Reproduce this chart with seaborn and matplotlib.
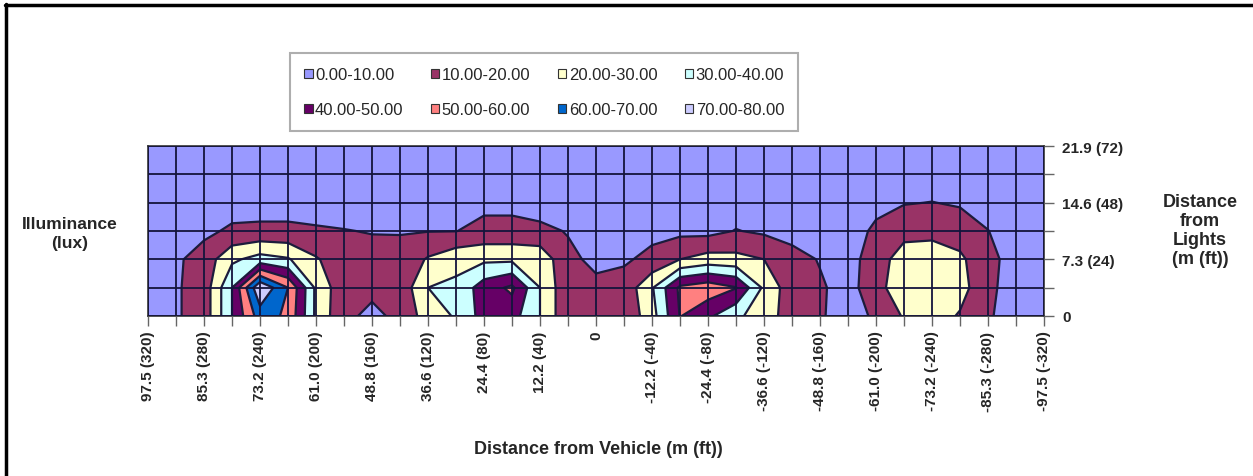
import numpy as np
import matplotlib
matplotlib.use("Agg")
import matplotlib.pyplot as plt
import seaborn as sns
from matplotlib.patches import Patch
from matplotlib.lines import Line2D

sns.set_theme(style="white")
plt.rcParams['font.family'] = ['Liberation Sans', 'DejaVu Sans']
plt.rcParams['font.weight'] = 'bold'

# distance from vehicle (ft), left to right as plotted
distance_ft = [320, 300, 280, 260, 240, 220, 200, 180, 160, 140, 120, 100, 80, 60, 40, 20, 0,
               -20, -40, -60, -80, -100, -120, -140, -160, -180, -200, -220, -240, -260, -280, -300, -320]
# distance from lights (ft)
height_ft = [0, 12, 24, 36, 48, 60, 72]

x_tick_labels = ["97.5 (320)", "85.3 (280)", "73.2 (240)", "61.0 (200)", "48.8 (160)", "36.6 (120)",
                 "24.4 (80)", "12.2 (40)", "0", "-12.2 (-40)", "-24.4 (-80)", "-36.6 (-120)",
                 "-48.8 (-160)", "-61.0 (-200)", "-73.2 (-240)", "-85.3 (-280)", "-97.5 (-320)"]
y_tick_labels = ["0", "7.3 (24)", "14.6 (48)", "21.9 (72)"]

# illuminance (lux), one list per distance from lights
lux_0ft = [5, 9, 14, 40, 65, 58, 28, 12, 8, 12, 25, 31, 44, 44, 30, 12, 12, 12, 26, 50.5, 42, 32, 25, 15, 11, 6, 11.5, 21, 25, 19, 11, 6, 4]
lux_12ft = [5, 9, 14, 40, 79, 60, 28, 13, 12, 13, 30, 32, 45, 52, 30, 12, 12, 13, 29, 52, 56, 50.5, 28, 14, 11, 7, 15, 29, 29, 24, 12, 6, 4]
lux_24ft = [5, 8.5, 14, 28, 34, 31, 21, 14, 13, 13, 21, 27, 28, 28, 27, 12, 8, 9, 12, 20, 24, 23, 20, 13, 9.5, 7, 14, 26, 26, 22, 12.5, 6.5, 4]
lux_36ft = [4, 6, 8, 11.5, 12, 12, 11, 10.3, 9.6, 9.5, 9.7, 9.8, 13, 13, 12, 9.5, 6, 7, 8, 7.5, 7, 10.4, 8.5, 7, 6, 5, 12, 16, 17, 15, 10.2, 5, 3]
lux_48ft = [3, 4, 5, 6, 6, 6, 6, 6, 5, 5, 5, 5, 7.5, 7.5, 6, 5, 4, 4, 5, 5, 5, 5, 5, 4, 4, 4, 7, 9.5, 10.2, 9, 6, 4, 3]
lux_60ft = [2, 3, 3, 3, 3, 3, 3, 3, 3, 3, 3, 3, 4, 4, 3, 3, 3, 3, 3, 3, 3, 3, 3, 3, 3, 3, 4, 5, 5, 5, 4, 3, 2]
lux_72ft = [2, 2, 2, 2, 2, 2, 2, 2, 2, 2, 2, 2, 2, 2, 2, 2, 2, 2, 2, 2, 2, 2, 2, 2, 2, 2, 2, 3, 3, 3, 2, 2, 2]

band_labels = ["0.00-10.00", "10.00-20.00", "20.00-30.00", "30.00-40.00",
               "40.00-50.00", "50.00-60.00", "60.00-70.00", "70.00-80.00"]
band_levels = [0, 10, 20, 30, 40, 50, 60, 70, 80]
band_colors = ["#9999FF", "#993366", "#FFFFCC", "#CCFFFF",
               "#660066", "#FF8080", "#0066CC", "#CCCCFF"]

Z = np.array([lux_0ft, lux_12ft, lux_24ft, lux_36ft, lux_48ft, lux_60ft, lux_72ft])

W, H = 1253, 477
fig = plt.figure(figsize=(W / 100, H / 100), dpi=100)
fig.patch.set_facecolor("white")
ax = fig.add_axes([148 / W, 1 - 317 / H, (1044 - 148) / W, 170 / H])

ax.contourf(distance_ft, height_ft, Z, levels=band_levels, colors=band_colors)
ax.contour(distance_ft, height_ft, Z, levels=band_levels[1:-1], colors="#1c1c3c", linewidths=1.6)

ax.set_xlim(320, -320)
ax.set_ylim(0, 72)

xt = [x_tick_labels[i // 2] if i % 2 == 0 else "" for i in range(len(distance_ft))]
yt = [y_tick_labels[i // 2] if i % 2 == 0 else "" for i in range(len(height_ft))]
ax.set_xticks(distance_ft)
ax.set_xticklabels(xt, rotation=90, fontsize=11, fontweight="bold")
ax.set_yticks(height_ft)
ax.set_yticklabels(yt, fontsize=11, fontweight="bold")
ax.yaxis.tick_right()
ax.tick_params(axis="x", bottom=True, direction="out", length=7, width=1, color="#666666", pad=3.5)
ax.tick_params(axis="y", right=True, left=False, direction="out", length=7, width=1, color="#666666", pad=6)

ax.grid(True, color="#14143c", linewidth=1.3)
ax.set_axisbelow(False)
for s in ax.spines.values():
    s.set_color("#333333")
    s.set_linewidth(1.2)

fig.text(598 / W, 1 - 450 / H, "Distance from Vehicle (m (ft))", ha="center", va="center",
         fontsize=13, fontweight="bold")
fig.text(1200 / W, 1 - 231 / H, "Distance\nfrom\nLights\n(m (ft))", ha="center", va="center",
         fontsize=13, fontweight="bold", linespacing=1.15)
fig.text(70 / W, 1 - 234 / H, "Illuminance\n(lux)", ha="center", va="center",
         fontsize=12.5, fontweight="bold", linespacing=1.3)

# legend, filled row by row like the original
order = [0, 4, 1, 5, 2, 6, 3, 7]
handles = [Patch(facecolor=band_colors[i], edgecolor="#333333", linewidth=0.8) for i in order]
labels = [band_labels[i] for i in order]
leg = fig.legend(handles, labels, ncol=4, loc="upper left", bbox_to_anchor=(290 / W, 1 - 54 / H),
                 prop={"size": 12, "weight": "normal"}, handlelength=0.5, handleheight=0.5,
                 handletextpad=0.15, columnspacing=1.65, labelspacing=1.2, borderpad=0.85,
                 borderaxespad=0, frameon=True, fancybox=False, edgecolor="#9a9a9a")
leg.get_frame().set_linewidth(1.5)

# outer border lines (top and left)
fig.add_artist(Line2D([6 / W, 6 / W], [0, 1 - 5 / H], transform=fig.transFigure, color="black", lw=2.5))
fig.add_artist(Line2D([5 / W, 1], [1 - 6 / H, 1 - 6 / H], transform=fig.transFigure, color="black", lw=2.5))

fig.savefig("out.png", dpi=100)
